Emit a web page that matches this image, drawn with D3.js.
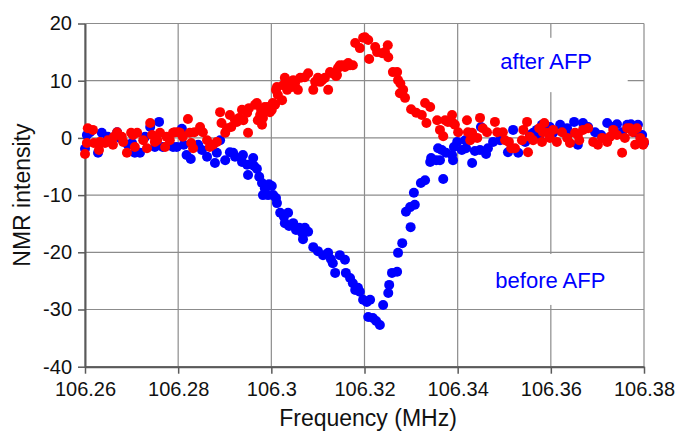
<!DOCTYPE html>
<html>
<head>
<meta charset="utf-8">
<script src="https://cdn.jsdelivr.net/npm/d3@7"></script>
<style>
  html, body { margin: 0; padding: 0; background: #fff; }
  svg { display: block; font-family: "Liberation Sans", Arial, sans-serif; }
</style>
</head>
<body>
<svg id="chart" width="680" height="433"></svg>
<script>
// Axis ticks and their printed labels
const freqTicks = [106.26, 106.28, 106.30, 106.32, 106.34, 106.36, 106.38];
const freqTickLabels = ["106.26", "106.28", "106.3", "106.32", "106.34", "106.36", "106.38"];
const intensityTicks = [-40, -30, -20, -10, 0, 10, 20];
const intensityTickLabels = ["-40", "-30", "-20", "-10", "0", "10", "20"];

// NMR signal before adiabatic fast passage: [frequency (MHz), intensity]
const beforeAFP = [
  [106.2600,-1.9],[106.2604,0.5],[106.2611,1.0],[106.2628,-2.6],[106.2636,0.9],[106.2649,0.2],
  [106.2669,1.0],[106.2675,0.0],[106.2692,-1.2],[106.2701,-0.9],[106.2707,-2.6],[106.2718,-2.6],
  [106.2729,0.2],[106.2740,1.9],[106.2750,-1.6],[106.2759,2.8],[106.2767,-1.6],[106.2789,-1.6],
  [106.2797,-1.6],[106.2808,1.6],[106.2812,-1.2],[106.2818,-3.0],[106.2827,-3.7],[106.2843,-1.2],
  [106.2851,-2.1],[106.2862,-3.3],[106.2879,-4.4],[106.2883,-2.6],[106.2890,-0.4],[106.2901,-3.9],
  [106.2911,-2.5],[106.2918,-2.6],[106.2922,-3.3],[106.2937,-4.2],[106.2939,-3.0],[106.2948,-4.7],
  [106.2950,-6.5],[106.2961,-3.5],[106.2963,-4.9],[106.2969,-5.4],[106.2974,-6.8],[106.2980,-7.9],
  [106.2982,-10.0],[106.2986,-8.8],[106.2993,-10.0],[106.2995,-8.1],[106.3001,-8.4],[106.3004,-10.0],
  [106.3010,-10.5],[106.3012,-11.4],[106.3019,-13.1],[106.3027,-13.8],[106.3029,-14.9],[106.3036,-13.1],
  [106.3038,-15.4],[106.3047,-14.9],[106.3053,-16.1],[106.3060,-15.7],[106.3066,-16.6],[106.3068,-17.7],
  [106.3072,-15.7],[106.3079,-16.4],[106.3090,-19.1],[106.3100,-19.8],[106.3111,-20.5],[106.3122,-20.1],
  [106.3128,-21.2],[106.3132,-21.9],[106.3137,-23.6],[106.3147,-20.5],[106.3158,-21.3],[106.3160,-23.6],
  [106.3169,-24.5],[106.3175,-25.4],[106.3180,-26.6],[106.3186,-26.2],[106.3190,-26.9],[106.3197,-28.3],
  [106.3205,-28.7],[106.3208,-31.3],[106.3212,-28.3],[106.3218,-31.5],[106.3225,-32.0],[106.3233,-32.7],
  [106.3240,-29.2],[106.3251,-27.1],[106.3253,-25.7],[106.3259,-23.6],[106.3270,-23.4],[106.3272,-20.1],
  [106.3281,-18.4],[106.3289,-12.9],[106.3298,-12.1],[106.3299,-15.6],[106.3306,-9.6],[106.3308,-11.7],
  [106.3321,-7.9],[106.3330,-7.4],[106.3341,-4.2],[106.3343,-3.5],[106.3354,-3.9],[106.3358,-1.8],
  [106.3362,-3.9],[106.3366,-2.1],[106.3369,-7.2],[106.3375,-2.6],[106.3388,-3.0],[106.3390,-3.9],
  [106.3392,-1.6],[106.3399,-0.7],[106.3409,-2.1],[106.3416,-0.4],[106.3418,-1.8],[106.3431,-4.4],
  [106.3437,-2.3],[106.3448,-2.1],[106.3450,1.9],[106.3461,-2.8],[106.3465,-1.8],[106.3476,-0.7],
  [106.3491,-0.4],[106.3508,-2.5],[106.3519,1.4],[106.3530,-2.6],[106.3545,-0.7],[106.3555,0.5],
  [106.3562,0.9],[106.3570,1.4],[106.3575,0.2],[106.3581,2.3],[106.3588,1.4],[106.3598,1.9],
  [106.3605,0.9],[106.3620,2.3],[106.3635,1.7],[106.3639,0.9],[106.3650,2.8],[106.3658,-1.2],
  [106.3669,2.6],[106.3680,1.9],[106.3695,1.0],[106.3708,0.5],[106.3721,2.6],[106.3734,1.9],
  [106.3742,2.4],[106.3753,1.0],[106.3764,2.3],[106.3772,2.4],[106.3781,1.0],[106.3787,2.3],
  [106.3796,0.5],[106.3800,-0.9]
];

// NMR signal after adiabatic fast passage: [frequency (MHz), intensity]
const afterAFP = [
  [106.2600,-2.8],[106.2604,-0.9],[106.2606,1.7],[106.2617,1.4],[106.2619,-0.9],[106.2630,-2.1],
  [106.2632,-0.7],[106.2643,-0.9],[106.2649,-0.4],[106.2660,-1.2],[106.2662,0.2],[106.2669,1.0],
  [106.2679,0.2],[106.2682,-0.7],[106.2690,-2.6],[106.2699,0.9],[106.2703,0.5],[106.2707,-1.6],
  [106.2712,0.9],[106.2725,-0.4],[106.2733,-1.8],[106.2740,2.6],[106.2744,0.5],[106.2750,-0.7],
  [106.2755,-0.4],[106.2761,0.9],[106.2772,-1.6],[106.2775,0.2],[106.2782,-0.4],[106.2789,0.9],
  [106.2793,1.0],[106.2800,1.0],[106.2804,0.9],[106.2810,0.2],[106.2821,3.3],[106.2825,0.9],
  [106.2828,-0.9],[106.2832,-1.8],[106.2835,1.0],[106.2847,1.9],[106.2853,1.0],[106.2862,-0.4],
  [106.2868,-1.6],[106.2875,-1.2],[106.2883,-0.7],[106.2890,4.5],[106.2893,2.6],[106.2901,0.9],
  [106.2905,1.7],[106.2911,4.0],[106.2914,1.9],[106.2922,3.1],[106.2926,2.8],[106.2931,3.5],
  [106.2937,4.9],[106.2940,3.1],[106.2948,4.4],[106.2950,0.9],[106.2952,5.2],[106.2965,5.8],
  [106.2969,6.1],[106.2971,3.1],[106.2976,4.0],[106.2978,4.9],[106.2980,2.3],[106.2982,3.5],
  [106.2986,5.4],[106.2991,4.9],[106.2993,5.4],[106.2997,4.5],[106.3001,4.9],[106.3003,6.1],
  [106.3008,5.8],[106.3010,8.4],[106.3012,8.9],[106.3014,7.5],[106.3023,6.6],[106.3025,9.2],
  [106.3029,10.5],[106.3034,8.4],[106.3040,9.6],[106.3044,8.9],[106.3047,10.1],[106.3051,9.6],
  [106.3057,8.4],[106.3062,10.5],[106.3072,10.6],[106.3079,11.3],[106.3090,8.4],[106.3094,9.8],
  [106.3100,10.5],[106.3105,9.8],[106.3109,10.1],[106.3115,10.5],[106.3122,8.4],[106.3126,11.5],
  [106.3130,11.3],[106.3139,10.8],[106.3141,11.0],[106.3143,12.2],[106.3147,12.7],[106.3154,12.7],
  [106.3158,12.4],[106.3165,13.1],[106.3169,12.7],[106.3175,12.7],[106.3180,16.6],[106.3190,15.7],
  [106.3197,17.5],[106.3201,17.6],[106.3208,17.1],[106.3210,13.8],[106.3223,15.9],[106.3227,15.0],
  [106.3238,14.8],[106.3244,15.0],[106.3250,16.2],[106.3251,14.1],[106.3261,11.5],[106.3270,11.5],
  [106.3272,10.1],[106.3277,9.5],[106.3276,7.8],[106.3283,8.4],[106.3287,7.0],[106.3300,5.0],
  [106.3311,4.4],[106.3323,4.0],[106.3330,6.1],[106.3333,2.6],[106.3341,5.4],[106.3356,3.1],
  [106.3362,1.4],[106.3369,0.3],[106.3373,3.1],[106.3379,2.8],[106.3388,4.0],[106.3390,2.6],
  [106.3394,2.3],[106.3401,1.0],[106.3420,3.1],[106.3422,1.0],[106.3427,-0.4],[106.3431,0.9],
  [106.3442,0.0],[106.3448,3.5],[106.3454,1.7],[106.3463,1.0],[106.3480,2.8],[106.3485,1.0],
  [106.3497,1.0],[106.3502,-0.4],[106.3510,-0.7],[106.3515,-1.8],[106.3523,-1.8],[106.3538,-0.4],
  [106.3541,1.4],[106.3549,2.8],[106.3551,-2.5],[106.3555,0.2],[106.3562,-0.4],[106.3575,1.7],
  [106.3581,-0.7],[106.3583,1.0],[106.3586,2.6],[106.3594,0.9],[106.3598,0.0],[106.3605,1.4],
  [106.3613,-0.7],[106.3624,1.0],[106.3635,0.0],[106.3641,-0.9],[106.3652,0.9],[106.3658,0.5],
  [106.3661,-0.4],[106.3669,1.4],[106.3680,1.7],[106.3691,-0.7],[106.3701,-1.2],[106.3710,0.0],
  [106.3721,-0.7],[106.3727,0.2],[106.3734,1.4],[106.3742,0.5],[106.3753,-2.6],[106.3759,0.0],
  [106.3764,1.7],[106.3770,1.7],[106.3776,1.0],[106.3781,-1.2],[106.3785,1.7],[106.3792,0.0],
  [106.3798,-1.2],[106.3800,-0.7]
];

const svg = d3.select("#chart");
const plot = { left: 85, right: 644, top: 23.5, bottom: 366.7 };

const x = d3.scaleLinear().domain([106.26, 106.38]).range([plot.left, plot.right]);
const y = d3.scaleLinear().domain([-40, 20]).range([plot.bottom, plot.top]);

// Grid
const grid = svg.append("g").attr("stroke", "#8c8c8c").attr("stroke-width", 1.2);
grid.selectAll("line.v").data(freqTicks).join("line")
  .attr("class", "v")
  .attr("x1", d => x(d)).attr("x2", d => x(d))
  .attr("y1", plot.top).attr("y2", plot.bottom);
grid.selectAll("line.h").data(intensityTicks).join("line")
  .attr("class", "h")
  .attr("x1", plot.left).attr("x2", plot.right)
  .attr("y1", d => y(d)).attr("y2", d => y(d));

// White panels behind the series annotations
const notes = [
  { text: "after AFP", x0: 106.3427, x1: 106.3765, y0: 17.5, y1: 8.0, tx: 106.3590, ty: 12.1 },
  { text: "before AFP", x0: 106.3440, x1: 106.3785, y0: -20.3, y1: -29.2, tx: 106.3599, ty: -26.2 }
];
svg.append("g").selectAll("rect").data(notes).join("rect")
  .attr("x", d => x(d.x0)).attr("width", d => x(d.x1) - x(d.x0))
  .attr("y", d => y(d.y0)).attr("height", d => y(d.y1) - y(d.y0))
  .attr("fill", "#fff");
svg.append("g").selectAll("text").data(notes).join("text")
  .attr("x", d => x(d.tx)).attr("y", d => y(d.ty))
  .attr("text-anchor", "middle")
  .attr("font-size", 22)
  .attr("fill", "#0000ff")
  .text(d => d.text);

// Axes
const xAxis = d3.axisBottom(x).tickValues(freqTicks)
  .tickFormat((d, i) => freqTickLabels[i]).tickSizeInner(7).tickSizeOuter(0).tickPadding(8);
const yAxis = d3.axisLeft(y).tickValues(intensityTicks)
  .tickFormat((d, i) => intensityTickLabels[i]).tickSizeInner(7).tickSizeOuter(0).tickPadding(6);

const gx = svg.append("g").attr("transform", `translate(0,${plot.bottom})`).call(xAxis);
const gy = svg.append("g").attr("transform", `translate(${plot.left},0)`).call(yAxis);
[gx, gy].forEach(g => {
  g.select(".domain").attr("stroke", "#5a5a5a").attr("stroke-width", 2);
  g.selectAll(".tick line").attr("stroke", "#5a5a5a").attr("stroke-width", 1.5);
  g.selectAll(".tick text").attr("font-size", 20).attr("fill", "#111")
    .attr("font-family", "Liberation Sans, Arial, sans-serif");
});

// Data points: before AFP underneath, after AFP on top
const r = 5;
svg.append("g").selectAll("circle").data(beforeAFP).join("circle")
  .attr("cx", d => x(d[0])).attr("cy", d => y(d[1])).attr("r", r)
  .attr("fill", "#0000ff");
svg.append("g").selectAll("circle").data(afterAFP).join("circle")
  .attr("cx", d => x(d[0])).attr("cy", d => y(d[1])).attr("r", r)
  .attr("fill", "#ff0000");

// Axis titles
svg.append("text")
  .attr("x", 368).attr("y", 426)
  .attr("text-anchor", "middle").attr("font-size", 23).attr("fill", "#111")
  .text("Frequency (MHz)");
svg.append("text")
  .attr("transform", `translate(30,${(plot.top + plot.bottom) / 2}) rotate(-90)`)
  .attr("text-anchor", "middle").attr("font-size", 23).attr("fill", "#111")
  .text("NMR intensity");
</script>
</body>
</html>
